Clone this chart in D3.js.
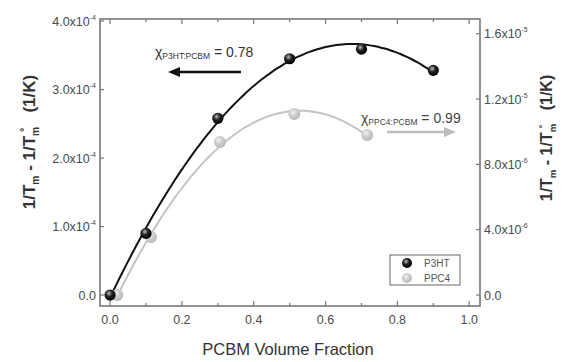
<!DOCTYPE html>
<html>
<head>
<meta charset="utf-8">
<script src="https://cdn.jsdelivr.net/npm/d3@7/dist/d3.min.js"></script>
<style>
  body { margin: 0; background: #fff; }
  text { font-family: "Liberation Sans", Arial, sans-serif; }
</style>
</head>
<body>
<svg id="chart" width="570" height="362"></svg>
<script>
// data
const p3htX = [0, 0.1, 0.3, 0.5, 0.7, 0.9];
const p3htY = [0, 0.9e-4, 2.58e-4, 3.45e-4, 3.59e-4, 3.28e-4];
const ppc4X = [0.02, 0.114, 0.306, 0.513, 0.716];
const ppc4Y = [0, 3.55e-6, 9.37e-6, 11.08e-6, 9.8e-6];

const xTicks = [0, 0.2, 0.4, 0.6, 0.8, 1.0];
const xMinor = [0.1, 0.3, 0.5, 0.7, 0.9];
const leftTicks = [0, 1e-4, 2e-4, 3e-4, 4e-4];
const leftLabels = ['0.0', '1.0x10|-4', '2.0x10|-4', '3.0x10|-4', '4.0x10|-4'];
const rightTicks = [0, 4e-6, 8e-6, 12e-6, 16e-6];
const rightLabels = ['0.0', '4.0x10|-6', '8.0x10|-6', '1.2x10|-5', '1.6x10|-5'];

const svg = d3.select('#chart');
const pLeft = 100, pRight = 480, pTop = 19, pBottom = 306;

const x = d3.scaleLinear().domain([-0.028, 1.03]).range([pLeft, pRight]);
const yL = d3.scaleLinear().domain([-0.16e-4, 4.03e-4]).range([pBottom, pTop]);
const yR = d3.scaleLinear().domain([-0.67e-6, 16.9e-6]).range([pBottom, pTop]);

// gradients for the shaded spheres
const defs = svg.append('defs');
function sphere(id, c0, c1, c2) {
    const gr = defs.append('radialGradient').attr('id', id)
        .attr('cx', '40%').attr('cy', '35%').attr('r', '65%');
    gr.append('stop').attr('offset', '0%').attr('stop-color', c0);
    gr.append('stop').attr('offset', '45%').attr('stop-color', c1);
    gr.append('stop').attr('offset', '100%').attr('stop-color', c2);
}
sphere('gBlack', '#bdbdbd', '#222', '#000');
sphere('gGray', '#f2f2f2', '#cfcfcf', '#b8b8b8');

// quadratic least squares fit, used for the fitted curves
function quadFit(xs, ys) {
    let S = [[0, 0, 0], [0, 0, 0], [0, 0, 0]], B = [0, 0, 0];
    xs.forEach((xv, i) => {
        const p = [1, xv, xv * xv];
        for (let r = 0; r < 3; r++) {
            B[r] += p[r] * ys[i];
            for (let c = 0; c < 3; c++) S[r][c] += p[r] * p[c];
        }
    });
    // gaussian elimination
    const M = S.map((row, i) => row.concat([B[i]]));
    for (let i = 0; i < 3; i++) {
        for (let k = i + 1; k < 3; k++) {
            const f = M[k][i] / M[i][i];
            for (let j = i; j < 4; j++) M[k][j] -= f * M[i][j];
        }
    }
    const c = [0, 0, 0];
    for (let i = 2; i >= 0; i--) {
        let s = M[i][3];
        for (let j = i + 1; j < 3; j++) s -= M[i][j] * c[j];
        c[i] = s / M[i][i];
    }
    return v => c[0] + c[1] * v + c[2] * v * v;
}

function fitPoints(xs, ys) {
    const f = quadFit(xs, ys);
    const lo = d3.min(xs), hi = d3.max(xs);
    return d3.range(0, 61).map(i => { const v = lo + (hi - lo) * i / 60; return [v, f(v)]; });
}

const line = (ys) => d3.line().x(d => x(d[0])).y(d => ys(d[1])).curve(d3.curveBasis);

svg.append('path').datum(fitPoints(ppc4X, ppc4Y))
    .attr('d', line(yR)).attr('fill', 'none').attr('stroke', '#c4c4c4').attr('stroke-width', 2);
svg.append('path').datum(fitPoints(p3htX, p3htY))
    .attr('d', line(yL)).attr('fill', 'none').attr('stroke', '#111').attr('stroke-width', 2);

svg.selectAll('.pp').data(ppc4X).enter().append('circle')
    .attr('cx', d => x(d)).attr('cy', (d, i) => yR(ppc4Y[i])).attr('r', 6)
    .attr('fill', 'url(#gGray)');
svg.selectAll('.p3').data(p3htX).enter().append('circle')
    .attr('cx', d => x(d)).attr('cy', (d, i) => yL(p3htY[i])).attr('r', 5.6)
    .attr('fill', 'url(#gBlack)');

// frame
const axisCol = '#777';
svg.append('rect').attr('x', pLeft).attr('y', pTop).attr('width', pRight - pLeft).attr('height', pBottom - pTop)
    .attr('fill', 'none').attr('stroke', axisCol).attr('stroke-width', 1.6);

// ticks, pointing inward
const tk = svg.append('g').attr('stroke', axisCol).attr('stroke-width', 1.2);
xTicks.forEach(t => {
    tk.append('line').attr('x1', x(t)).attr('x2', x(t)).attr('y1', pBottom).attr('y2', pBottom - 5);
    tk.append('line').attr('x1', x(t)).attr('x2', x(t)).attr('y1', pTop).attr('y2', pTop + 5);
});
xMinor.forEach(t => {
    tk.append('line').attr('x1', x(t)).attr('x2', x(t)).attr('y1', pBottom).attr('y2', pBottom - 3);
    tk.append('line').attr('x1', x(t)).attr('x2', x(t)).attr('y1', pTop).attr('y2', pTop + 3);
});
leftTicks.forEach(t => {
    tk.append('line').attr('x1', pLeft).attr('x2', pLeft + 4).attr('y1', yL(t)).attr('y2', yL(t));
});
rightTicks.forEach(t => {
    tk.append('line').attr('x1', pRight).attr('x2', pRight - 4).attr('y1', yR(t)).attr('y2', yR(t));
});

const labCol = '#4a4a4a';
svg.selectAll('.xl').data(xTicks).enter().append('text')
    .attr('x', d => x(d)).attr('y', pBottom + 18).attr('text-anchor', 'middle')
    .attr('font-size', 12.5).attr('fill', labCol).text(d => d.toFixed(1));

function sciLabel(sel, s) {
    const parts = s.split('|');
    sel.append('tspan').text(parts[0]);
    if (parts[1]) sel.append('tspan').attr('dy', -6).attr('font-size', 7).text(parts[1]);
}
leftTicks.forEach((t, i) => {
    const tx = svg.append('text').attr('x', pLeft - 4).attr('y', yL(t) + 4.5)
        .attr('text-anchor', 'end').attr('font-size', 12.5).attr('fill', labCol);
    sciLabel(tx, leftLabels[i]);
});
rightTicks.forEach((t, i) => {
    const tx = svg.append('text').attr('x', pRight + 4).attr('y', yR(t) + 4.5)
        .attr('font-size', 12.5).attr('fill', labCol);
    sciLabel(tx, rightLabels[i]);
});

// axis titles
svg.append('text').attr('x', (pLeft + pRight) / 2 - 2).attr('y', 355).attr('text-anchor', 'middle')
    .attr('font-size', 16.5).attr('fill', '#333').text('PCBM Volume Fraction');

function yTitle(cx, cy, size) {
    const t = svg.append('text').attr('transform', `translate(${cx},${cy}) rotate(-90)`)
        .attr('text-anchor', 'middle').attr('font-size', size).attr('font-weight', 'bold').attr('fill', '#333');
    t.append('tspan').text('1/T');
    t.append('tspan').attr('font-size', size * 0.6).attr('dy', 4).text('m');
    t.append('tspan').attr('dy', -4).text(' - 1/T');
    t.append('tspan').attr('font-size', size * 0.6).attr('dy', 4).text('m');
    t.append('tspan').attr('font-size', size * 0.6).attr('dx', -size * 0.3).attr('dy', -11).text('°');
    t.append('tspan').attr('dx', size * 0.9).attr('dy', 7).text('(1/K)');
}
yTitle(35, 142, 17);
yTitle(552, 138, 16);

// annotations
function chi(tx, ty, sub, val, col) {
    const t = svg.append('text').attr('x', tx).attr('y', ty).attr('fill', col).attr('font-size', 14);
    t.append('tspan').text('χ');
    t.append('tspan').attr('font-size', 8.5).attr('dy', 2).text(sub);
    t.append('tspan').attr('dy', -2).text(' = ' + val);
}
chi(155, 57, 'P3HT:PCBM', '0.78', '#333');
chi(361, 123, 'PPC4:PCBM', '0.99', '#444');

function arrow(x1, x2, yy, col) {
    svg.append('line').attr('x1', x1).attr('x2', x2 + (x2 < x1 ? 8 : -8)).attr('y1', yy).attr('y2', yy)
        .attr('stroke', col).attr('stroke-width', 2.5);
    const d = x2 < x1 ? 1 : -1;
    svg.append('path').attr('d', `M${x2},${yy} L${x2 + 12 * d},${yy - 5} L${x2 + 12 * d},${yy + 5} Z`).attr('fill', col);
}
arrow(241, 168, 72, '#111');
arrow(387, 456, 132, '#bdbdbd');

// legend
svg.append('rect').attr('x', 390).attr('y', 255).attr('width', 70).attr('height', 30)
    .attr('fill', '#fff').attr('stroke', '#666').attr('stroke-width', 1);
svg.append('circle').attr('cx', 407).attr('cy', 263).attr('r', 5).attr('fill', 'url(#gBlack)');
svg.append('circle').attr('cx', 407).attr('cy', 278).attr('r', 5).attr('fill', 'url(#gGray)');
svg.append('text').attr('x', 424).attr('y', 267).attr('font-size', 10).attr('fill', '#555').text('P3HT');
svg.append('text').attr('x', 424).attr('y', 282).attr('font-size', 10).attr('fill', '#555').text('PPC4');
</script>
</body>
</html>
